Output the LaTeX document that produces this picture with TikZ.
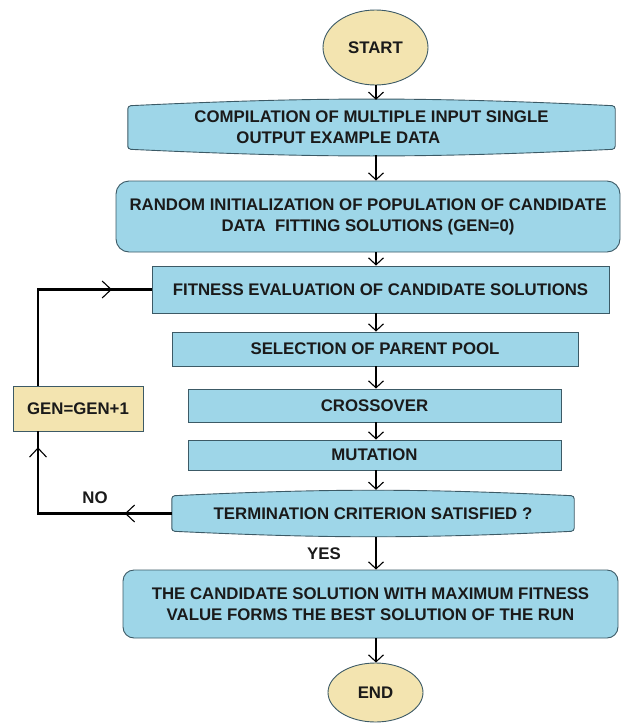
\documentclass[tikz,border=0pt]{standalone}
\usepackage{fontspec}
\setmainfont{Liberation Sans}
\usetikzlibrary{shapes.geometric, arrows.meta, decorations.markings, backgrounds}

\definecolor{boxblue}{HTML}{9ED6E8}
\definecolor{boxedge}{HTML}{3C5A66}
\definecolor{sandfill}{HTML}{F3E4B0}
\definecolor{inkgray}{HTML}{1A1A1A}

\begin{document}
\begin{tikzpicture}[x=1pt, y=-1pt]
    \tikzstyle{txt}=[font=\bfseries\fontsize{16.8}{21}\selectfont, text=inkgray]
    \tikzstyle{terminal}=[ellipse, draw=boxedge, line width=0.9pt, fill=sandfill, inner sep=0pt, txt]
    \tikzstyle{block}=[rectangle, draw=boxedge, line width=0.9pt, fill=boxblue, inner sep=0pt, align=center, txt]
    \tikzstyle{rblock}=[block, rounded corners=13pt]
    \tikzstyle{lbl}=[inner sep=0pt, align=center, txt]
    \tikzstyle{bulgebox}=[draw=boxedge, line width=0.9pt, fill=boxblue, rounded corners=3pt]
    \tikzstyle{flow}=[-{Straight Barb[length=7pt, width=15pt]}, line width=1.1pt]
    \tikzstyle{loopline}=[line width=2.4pt]
    \tikzset{midtip/.style={postaction={decorate, decoration={markings,
        mark=at position #1 with {\arrow[line width=1.1pt]{Straight Barb[length=9pt, width=17pt]}}}}}}

    \useasboundingbox (0, 0) rectangle (621, 723);

    \node (start) at (375.5, 47.5) [terminal, minimum width=105pt, minimum height=75pt] {START};

    \node (compile) at (371.5, 127.5) [lbl, align=left, minimum width=487pt, minimum height=55pt]
        {COMPILATION OF MULTIPLE INPUT SINGLE\\\hspace*{42pt}OUTPUT EXAMPLE DATA};
    \node (init) at (368, 216.5) [rblock, minimum width=504pt, minimum height=71pt]
        {RANDOM INITIALIZATION OF POPULATION OF CANDIDATE\\DATA\ \ FITTING SOLUTIONS (GEN=0)};

    \node (fitness) at (380.5, 289.5) [block, minimum width=457pt, minimum height=47pt] {FITNESS EVALUATION OF CANDIDATE SOLUTIONS};
    \node (select) at (375, 349) [block, minimum width=406pt, minimum height=34pt] {SELECTION OF PARENT POOL};
    \node (cross) at (374.5, 405.5) [block, minimum width=373pt, minimum height=33pt] {CROSSOVER};
    \node (mutate) at (374.5, 455) [block, minimum width=373pt, minimum height=30pt] {MUTATION};

    \node (term) at (373, 513.5) [lbl, minimum width=402pt, minimum height=47pt] {TERMINATION CRITERION SATISFIED ?};

    \node (best) at (370.5, 604) [rblock, rounded corners=11pt, minimum width=495pt, minimum height=68pt]
        {THE CANDIDATE SOLUTION WITH MAXIMUM FITNESS\\VALUE FORMS THE BEST SOLUTION OF THE RUN};

    \node (finish) at (375.5, 692.5) [terminal, minimum width=95pt, minimum height=59pt] {END};

    \node (gen) at (78, 408.5) [block, fill=sandfill, minimum width=130pt, minimum height=45pt] {GEN=GEN+1};
    \node (no) at (95, 498) [lbl] {NO};
    \node (yes) at (324, 554) [lbl] {YES};

    % boxes with bulging top and bottom
    \begin{scope}[on background layer]
        \foreach \n in {compile, term}
            \draw[bulgebox] ([yshift=6pt]\n.south west) -- ([yshift=-6pt]\n.north west)
                to[bend left=2.7] ([yshift=-6pt]\n.north east) -- ([yshift=6pt]\n.south east)
                to[bend left=2.7] ([yshift=6pt]\n.south west) -- cycle;
    \end{scope}

    % main flow
    \coordinate (axis) at (376, 0);
    \foreach \a/\b in {start/compile, compile/init, init/fitness, fitness/select, select/cross,
                       cross/mutate, mutate/term, term/best, best/finish}
        \draw[flow] (axis |- \a.south) -- (axis |- \b.north);

    % loop back
    \coordinate (loopx) at (38, 0);
    \draw[loopline, midtip=47pt, midtip=200pt] (term.west) -- (loopx |- term.west) -- (loopx |- gen.south);
    \draw[loopline, midtip=170pt] (loopx |- gen.north) -- (loopx |- fitness.west) -- (fitness.west);

\end{tikzpicture}
\end{document}
